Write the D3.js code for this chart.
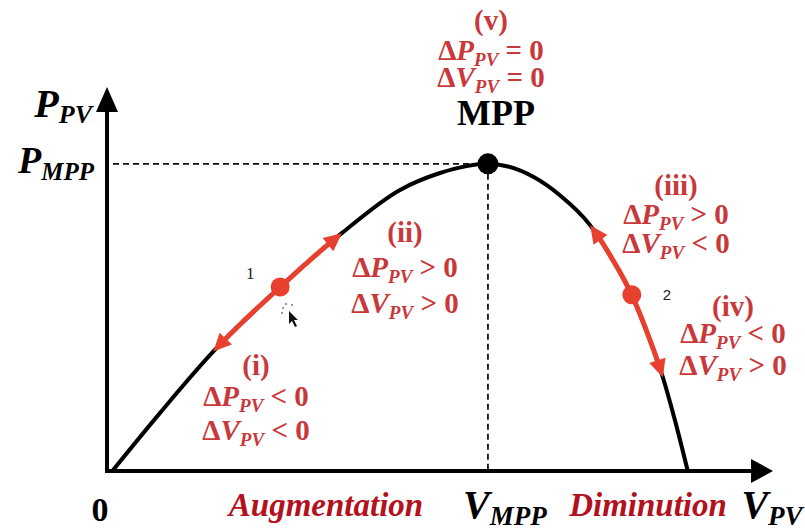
<!DOCTYPE html>
<html><head><meta charset="utf-8">
<script src="https://cdn.jsdelivr.net/npm/d3@7"></script>
<style>html,body{margin:0;padding:0;background:#fff;}svg{display:block;}</style>
</head><body>
<svg id="chart" width="805" height="531"></svg>
<script>
// ---- data ----
const voltage = [0.8, 8.0, 15.9, 26.0, 35.3, 44.0, 50.0, 54.0, 57.2, 60.2, 64.0, 68.0, 72.5, 75.8, 78.8, 81.2, 83.5, 85.4, 87.2];
const power   = [0.0, 15.2, 31.0, 47.9, 62.0, 73.2, 77.6, 79.4, 80.0, 79.3, 76.6, 71.8, 64.1, 55.4, 45.8, 35.6, 24.2, 12.4, 0.0];
const mppVoltage = 57.2;
const mppPower = 80.0;
const operatingPoints = [26.0, 78.8];
const operatingNames = ["1", "2"];
const arrowFrom = [26.0, 26.0, 78.8, 78.8];
const arrowTo   = [15.9, 35.3, 72.5, 83.5];
const caseNames = ["(i)", "(ii)", "(iii)", "(iv)", "(v)"];
const dPSigns   = ["<", ">", ">", "<", "="];
const dVSigns   = ["<", ">", "<", ">", "="];
const regionNames = ["Augmentation", "Diminution"];

// ---- setup ----
const SERIF = "'Liberation Serif','Times New Roman',serif";
const RED_TXT = "#c9383a";
const RED_ARR = "#e8402e";
const DARK_RED = "#b3111d";
const svg = d3.select("#chart");
const x = d3.scaleLinear().domain([0, 100]).range([107, 773]);
const y = d3.scaleLinear().domain([0, 100]).range([471, 87]);

// dashed guides
svg.append("line").attr("x1", x(0)+6).attr("x2", x(mppVoltage)).attr("y1", y(mppPower)).attr("y2", y(mppPower))
  .attr("stroke", "#111").attr("stroke-width", 1.8).attr("stroke-dasharray", "6,4");
svg.append("line").attr("x1", x(mppVoltage)).attr("x2", x(mppVoltage)).attr("y1", y(mppPower)).attr("y2", y(0))
  .attr("stroke", "#111").attr("stroke-width", 1.8).attr("stroke-dasharray", "6,4");

// axes
svg.append("line").attr("x1", x(0)).attr("x2", x(100)-20).attr("y1", y(0)).attr("y2", y(0))
  .attr("stroke", "#000").attr("stroke-width", 4);
svg.append("path").attr("d", `M${x(100)},${y(0)} L${x(100)-22},${y(0)-12} L${x(100)-22},${y(0)+12} Z`).attr("fill", "#000");
svg.append("line").attr("x1", x(0)).attr("x2", x(0)).attr("y1", y(0)+2).attr("y2", y(100)+20)
  .attr("stroke", "#000").attr("stroke-width", 4);
svg.append("path").attr("d", `M${x(0)},${y(100)} L${x(0)-11},${y(100)+25} L${x(0)+11},${y(100)+25} Z`).attr("fill", "#000");

// P-V curve
const line = d3.line().x((d, i) => x(voltage[i])).y((d, i) => y(power[i])).curve(d3.curveMonotoneX);
const curve = svg.append("path").datum(voltage).attr("d", line)
  .attr("fill", "none").attr("stroke", "#000").attr("stroke-width", 4);

// sample curve
const node = curve.node();
const L = node.getTotalLength();
const samples = d3.range(0, 1201).map(i => node.getPointAtLength(L * i / 1200));
function pointsBetween(va, vb) {
  const xa = x(va), xb = x(vb);
  let pts = samples.filter(p => p.x >= Math.min(xa, xb) && p.x <= Math.max(xa, xb));
  if (xb < xa) pts = pts.reverse();
  return pts;
}

// red perturbation arrows
arrowFrom.forEach((va, k) => {
  const pts = pointsBetween(va, arrowTo[k]);
  const tip = pts[pts.length - 1];
  let back = pts[0];
  for (let j = pts.length - 1; j >= 0; j--) {
    if (Math.hypot(pts[j].x - tip.x, pts[j].y - tip.y) >= 17) { back = pts[j]; break; }
  }
  const dx = tip.x - back.x, dy = tip.y - back.y, len = Math.hypot(dx, dy);
  const ux = dx / len, uy = dy / len;
  const baseX = tip.x - ux * 18, baseY = tip.y - uy * 18;
  const shaft = pts.filter(p => Math.hypot(p.x - tip.x, p.y - tip.y) >= 14);
  svg.append("path").attr("d", d3.line().x(p => p.x).y(p => p.y)(shaft))
    .attr("fill", "none").attr("stroke", RED_ARR).attr("stroke-width", 5);
  svg.append("path").attr("d",
    `M${tip.x},${tip.y} L${baseX - uy * 8.5},${baseY + ux * 8.5} L${baseX + uy * 8.5},${baseY - ux * 8.5} Z`)
    .attr("fill", RED_ARR);
});

// operating points
function curveY(v) {
  const p = samples.reduce((a, b) => Math.abs(b.x - x(v)) < Math.abs(a.x - x(v)) ? b : a);
  return p.y;
}
svg.selectAll(".op").data(operatingPoints).join("circle")
  .attr("cx", d => x(d)).attr("cy", d => curveY(d)).attr("r", 9.5).attr("fill", RED_ARR);
svg.append("text").attr("x", x(operatingPoints[0]) - 30).attr("y", curveY(operatingPoints[0]) - 8)
  .attr("text-anchor", "middle").attr("font-family", SERIF).attr("font-size", 17).attr("fill", "#222").text(operatingNames[0]);
svg.append("text").attr("x", x(operatingPoints[1]) + 35).attr("y", curveY(operatingPoints[1]) + 5)
  .attr("text-anchor", "middle").attr("font-family", "'Liberation Sans',Arial,sans-serif").attr("font-size", 15).attr("fill", "#222").text(operatingNames[1]);

// MPP point
svg.append("circle").attr("cx", x(mppVoltage)).attr("cy", y(mppPower)).attr("r", 10.5).attr("fill", "#000");

// small mouse cursor decoration
const cx0 = 289, cy0 = 311;
svg.append("path").attr("d", `M${cx0},${cy0} l0,13 l3,-3 l3,6 l2,-1 l-3,-6 l4,0 Z`).attr("fill", "#111");
[[-6,-3],[-3,-7],[3,-6],[-7,2]].forEach(o => svg.append("circle").attr("cx", cx0+o[0]).attr("cy", cy0+o[1]).attr("r", 1).attr("fill", "#777"));

// rich text helper
function richText(xp, yp, parts, o) {
  const t = svg.append("text").attr("x", xp).attr("y", yp).attr("text-anchor", o.anchor || "middle")
    .attr("font-family", SERIF).attr("font-weight", "bold").attr("font-size", o.size).attr("fill", o.color);
  let shifted = false;
  parts.forEach(p => {
    const s = t.append("tspan").text(p.t);
    if (p.i) s.attr("font-style", "italic");
    if (p.sub) { s.attr("font-size", o.subSize); if (!shifted) { s.attr("dy", o.subDy); shifted = true; } }
    else if (shifted) { s.attr("dy", -o.subDy); shifted = false; }
  });
  return t;
}

// case labels
const caseLayout = [
  {cx: 256, y0: 375, y1: 406, y2: 440},
  {cx: 405, y0: 242, y1: 277, y2: 313},
  {cx: 676, y0: 195, y1: 224, y2: 253},
  {cx: 733, y0: 316, y1: 343, y2: 375},
  {cx: 491, y0: 30,  y1: 60,  y2: 87}
];
const lblStyle = {size: 29, subSize: 19, subDy: 6, color: RED_TXT};
caseNames.forEach((nm, k) => {
  const c = caseLayout[k];
  richText(c.cx, c.y0, [{t: nm}], lblStyle);
  richText(c.cx, c.y1, [{t: "Δ"}, {t: "P", i: true}, {t: "PV", i: true, sub: true}, {t: " " + dPSigns[k] + " 0"}], lblStyle);
  richText(c.cx, c.y2, [{t: "Δ"}, {t: "V", i: true}, {t: "PV", i: true, sub: true}, {t: " " + dVSigns[k] + " 0"}], lblStyle);
});

// MPP label
richText(x(mppVoltage) + 8, 125, [{t: "MPP"}], {size: 36, color: "#000"});

// axis labels
richText(92, 117, [{t: "P", i: true}, {t: "PV", i: true, sub: true}], {anchor: "end", size: 40, subSize: 26, subDy: 6, color: "#000"});
richText(94, 173, [{t: "P", i: true}, {t: "MPP", i: true, sub: true}], {anchor: "end", size: 38, subSize: 25, subDy: 7, color: "#000"});
richText(x(0) - 7, 521, [{t: "0"}], {size: 34, color: "#000"});
richText(x(mppVoltage) + 17, 518, [{t: "V", i: true}, {t: "MPP", i: true, sub: true}], {size: 40, subSize: 27, subDy: 7, color: "#000"});
richText(772, 518, [{t: "V", i: true}, {t: "PV", i: true, sub: true}], {size: 40, subSize: 27, subDy: 7, color: "#000"});
richText(326, 516, [{t: regionNames[0], i: true}], {size: 33, color: DARK_RED});
richText(648, 516, [{t: regionNames[1], i: true}], {size: 33, color: DARK_RED});
</script>
</body></html>
